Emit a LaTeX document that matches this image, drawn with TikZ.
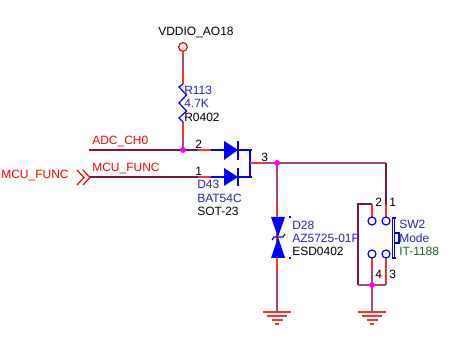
\documentclass[tikz,border=0pt]{standalone}
\usepackage{fontspec}
\setmainfont{Liberation Sans}
\definecolor{wirep}{RGB}{128,20,70}
\definecolor{wirel}{RGB}{165,75,125}
\definecolor{wirer}{RGB}{250,50,50}
\definecolor{partb}{RGB}{0,0,255}
\definecolor{textb}{RGB}{40,40,170}
\definecolor{textg}{RGB}{30,100,40}
\definecolor{dotm}{RGB}{255,0,255}
\tikzset{
 x=0.75pt,y=-0.75pt,
 lab/.style={font=\fontsize{9}{10}\selectfont,inner sep=0pt,anchor=west,text=#1},
 lab/.default=black,
 purw/.style={draw=wirep,line width=0.9pt},
 purl/.style={draw=wirel,line width=1.1pt},
 redw/.style={draw=wirer,line width=0.9pt},
 bluew/.style={draw=partb,line width=0.9pt},
 junction/.style={circle,fill=dotm,inner sep=0pt,minimum size=4.5pt},
 pinc/.style={circle,draw=partb,line width=0.9pt,fill=white,inner sep=0pt,minimum size=6pt},
}
\newcommand{\gnd}[2]{%
 \draw[redw] (#1-14,#2)--(#1+14,#2);
 \draw[redw] (#1-10,#2+4)--(#1+10,#2+4);
 \draw[redw] (#1-5.5,#2+8)--(#1+5.5,#2+8);
 \draw[redw] (#1-2,#2+12)--(#1+2,#2+12);}
\begin{document}
\begin{tikzpicture}
\useasboundingbox[fill=white] (0,0) rectangle (461,342);
% nodes
\coordinate (jr) at (183,150);
\coordinate (jo) at (277,163);
\coordinate (js) at (372,285);
\coordinate (adc) at (89,150);
\coordinate (mcu) at (90,177);
% wires
\draw[redw] (183,52)--(183,84);
\draw[purl] (183,56)--(183,70);
\draw[redw] (183,122)--(jr);
\draw[purl] (183,139)--(jr);
\draw[purw] (adc)--(jr)--(198,150);
\draw[redw] (198,150)--(211,150);
\draw[bluew] (211,150)--(224,150);
\draw[purw] (mcu)--(198,177);
\draw[redw] (198,177)--(211,177);
\draw[bluew] (211,177)--(224,177);
\draw[bluew] (238,150)--(252,150) (238,177)--(252,177) (250,150)--(250,177);
\draw[redw] (250,163)--(265,163);
\draw[purl] (265,163)--(jo)--(386,163);
\draw[purw] (386,163)--(386,204);
\draw[redw] (386,204)--(386,217);
% resistor
\draw[bluew,line join=miter] (183,84)--(179,87)--(186.5,95)--(179,103)--(186.5,111)--(179,118)--(183,122);
% open port
\node[circle,draw=red,line width=0.9pt,fill=white,inner sep=0pt,minimum size=6.5pt] (vdd) at (183,47) {};
% MCU chevrons
\draw[red,line width=0.9pt] (77,170)--(84,177.5)--(77,185) (83,170)--(90,177.5)--(83,185);
% diodes
\fill[partb] (224,141)--(238,150)--(224,160)--cycle;
\fill[partb] (224,168)--(238,177)--(224,186)--cycle;
\draw[bluew] (238,141)--(238,160) (238,168)--(238,186);
% D28
\draw[purl] (jo)--(277,204);
\draw[redw] (277,204)--(277,272);
\draw[purl] (277,272)--(277,312);
\fill[partb] (271,217)--(285,217)--(278,237)--cycle;
\fill[partb] (271,258)--(285,258)--(278,237)--cycle;
\draw[bluew] (272,240)--(274,237)--(283,237)--(285,234);
\fill[partb] (289,216) rectangle (291,218);
\fill[partb] (289,257) rectangle (291,259);
% switch
\draw[purw] (372,204)--(358,204)--(358,285);
\draw[purl] (358,285)--(386,285);
\draw[redw] (372,204)--(372,217);
\draw[redw] (372,258)--(372,270);
\draw[purl] (372,270)--(js);
\draw[redw] (386,258)--(386,285);
\draw[purl] (js)--(372,312);
\node[pinc] (p2) at (372,221) {};
\node[pinc] (p1) at (386,221) {};
\node[pinc] (p4) at (372,254) {};
\node[pinc] (p3) at (386,254) {};
\draw[bluew] (396,218)--(392.5,218)--(392.5,258)--(396,258) (394.5,218)--(394.5,258);
\draw[bluew] (394.5,233)--(399,233)--(399,243)--(394.5,243);
% grounds
\gnd{277}{312}
\gnd{372}{312}
% junctions
\node[junction] (d1) at (jr) {};
\node[junction] (d2) at (jo) {};
\node[junction] (d3) at (js) {};
% text
\node[lab] at (158,33) {VDDIO\_AO18};
\node[lab=textb] at (184,90) {R113};
\node[lab=textb] at (184,103) {4.7K};
\node[lab] at (184,117) {R0402};
\node[lab=red] at (92,142) {ADC\_CH0};
\node[lab=red] at (92,169) {MCU\_FUNC};
\node[lab=red] at (1,176) {MCU\_FUNC};
\node[lab] at (195,144) {2};
\node[lab] at (195,171) {1};
\node[lab] at (261,157) {3};
\node[lab=textb] at (197,184) {D43};
\node[lab=textb] at (197,198) {BAT54C};
\node[lab] at (197,211) {SOT-23};
\node[lab=textb] at (292,225) {D28};
\node[lab=textb] at (292,238) {AZ5725-01F};
\node[lab] at (292,251) {ESD0402};
\node[lab] at (375,202) {2};
\node[lab] at (389,202) {1};
\node[lab] at (375,274) {4};
\node[lab] at (389,274) {3};
\node[lab=textb] at (399,224) {SW2};
\node[lab=textb] at (399,238) {Mode};
\node[lab=textg] at (399,251) {IT-1188};
\end{tikzpicture}
\end{document}
